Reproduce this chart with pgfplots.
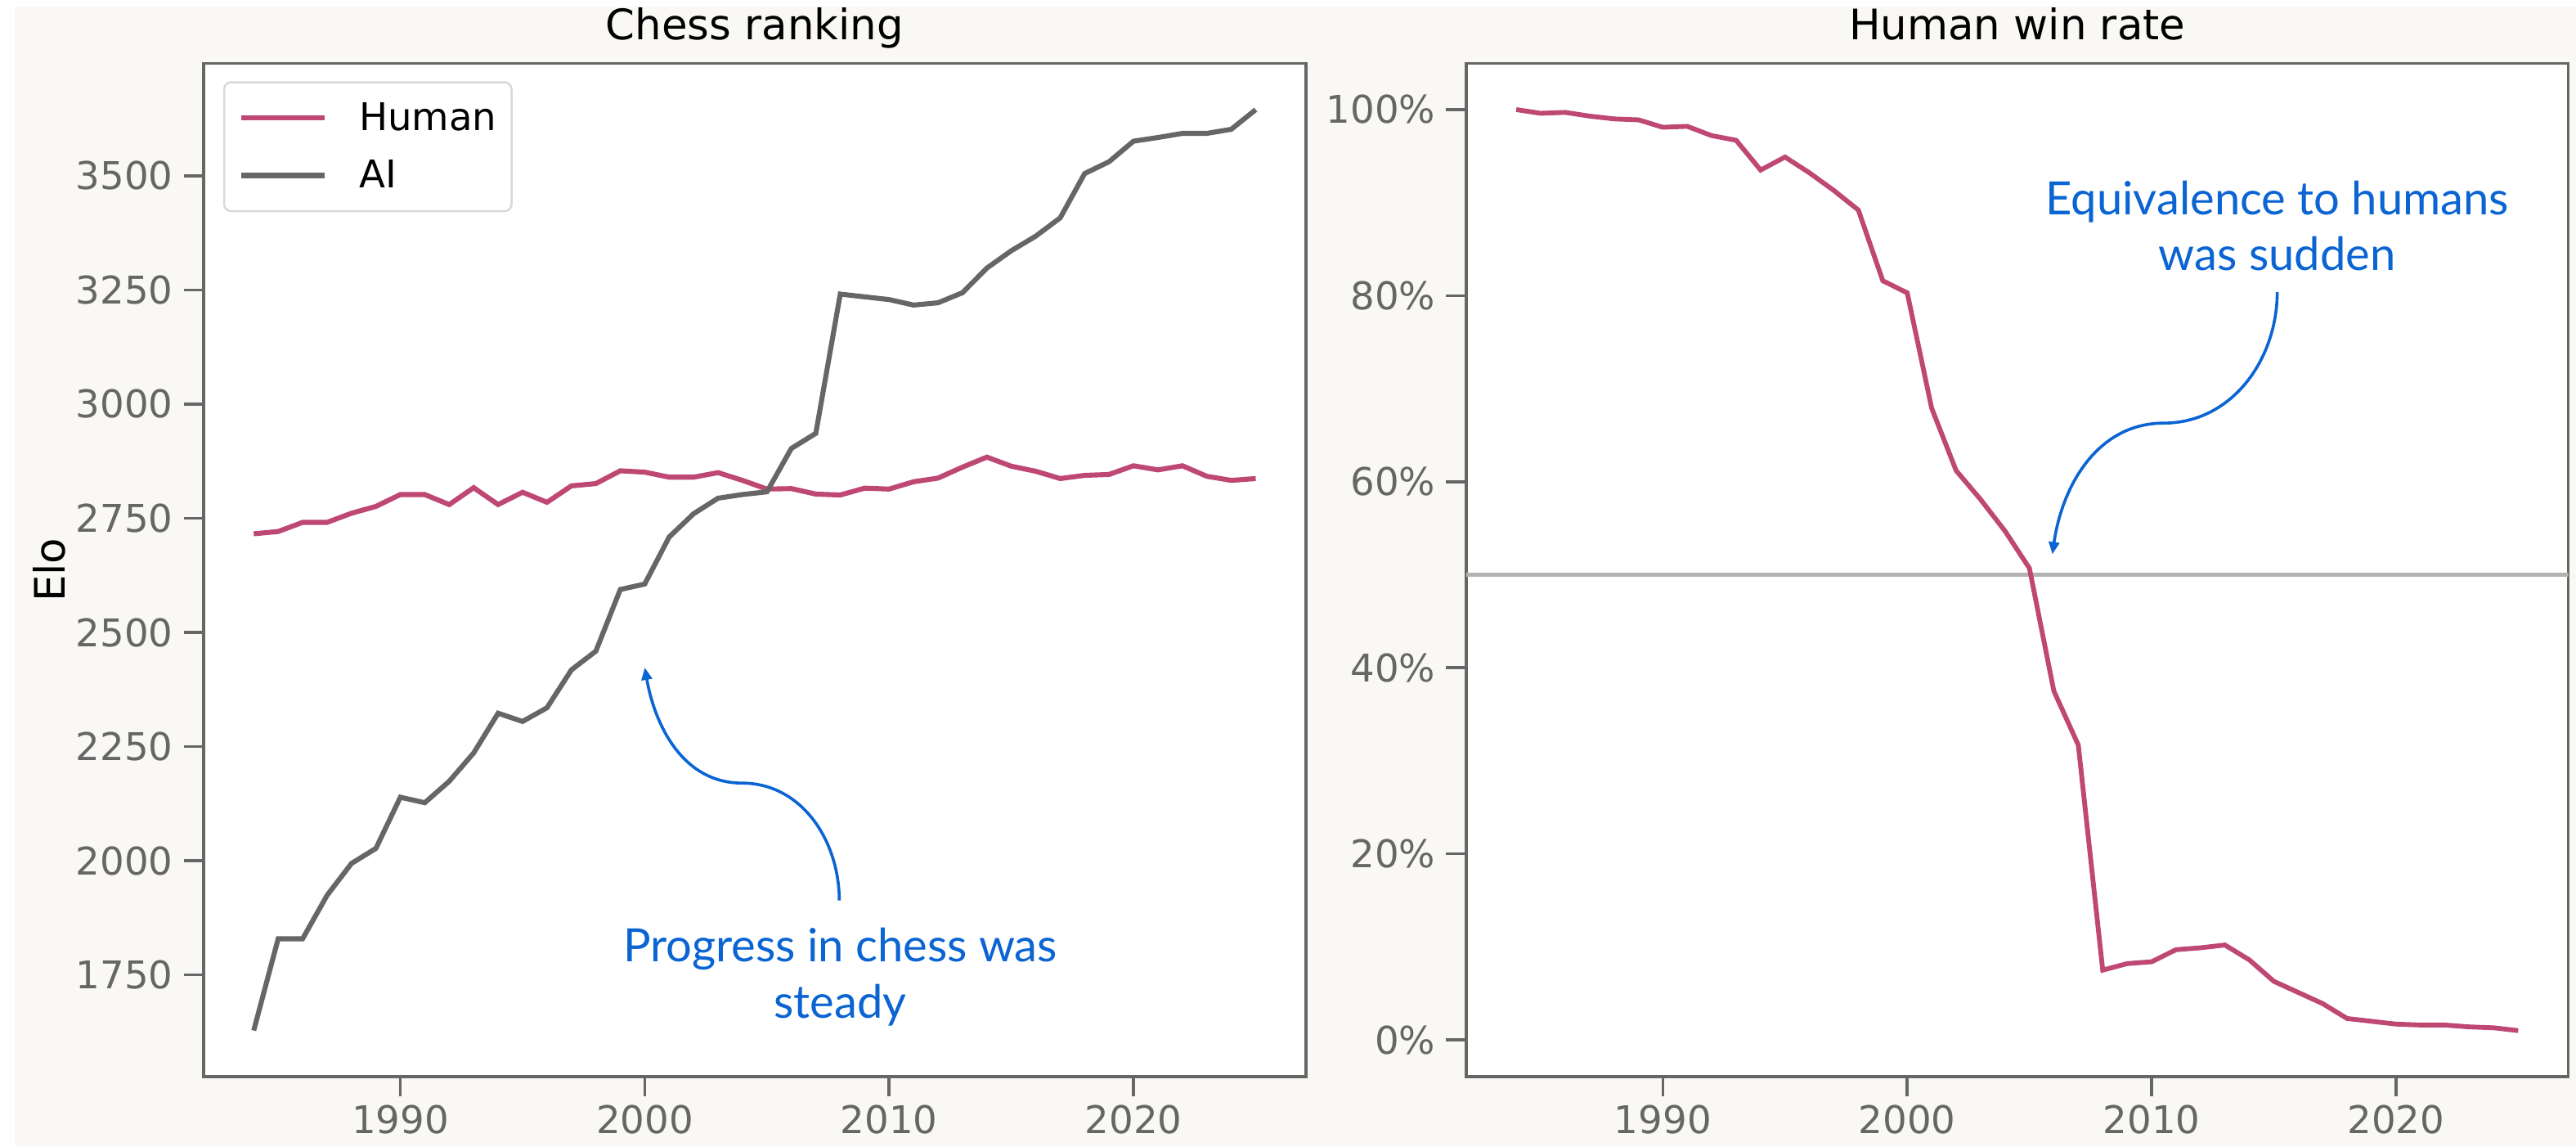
\documentclass[border=0pt]{standalone}
\usepackage{fontspec}
\setmainfont{DejaVu Sans}
\newfontfamily\annotfont{Lato}
\usepackage{pgfplots}
\pgfplotsset{compat=1.18}
\usepackage{pgfplotstable}
\usetikzlibrary{arrows.meta}

\definecolor{humancol}{RGB}{190,72,115}
\definecolor{aicol}{RGB}{102,102,102}
\definecolor{axgray}{RGB}{102,102,102}
\definecolor{bgcol}{RGB}{249,248,245}
\definecolor{annot}{RGB}{10,100,210}
\definecolor{refline}{RGB}{179,179,179}
\definecolor{leggray}{RGB}{217,217,217}

\newcommand\tickfont{\fontsize{16.8pt}{20pt}\selectfont}
\newcommand\titlefont{\fontsize{18.5pt}{22pt}\selectfont}
\newcommand\legfont{\fontsize{16.8pt}{20pt}\selectfont}

\pgfplotstableread{
year human ai win
1984 2716 1628 100.0
1985 2721 1829 99.6
1986 2741 1829 99.7
1987 2741 1924 99.3
1988 2761 1994 99.0
1989 2776 2027 98.9
1990 2802 2139 98.1
1991 2802 2127 98.2
1992 2780 2174 97.2
1993 2817 2236 96.7
1994 2780 2323 93.5
1995 2807 2305 94.9
1996 2785 2335 93.2
1997 2821 2418 91.3
1998 2826 2459 89.2
1999 2854 2594 81.6
2000 2851 2606 80.3
2001 2840 2709 67.9
2002 2840 2760 61.2
2003 2850 2794 58.1
2004 2833 2802 54.7
2005 2814 2808 50.7
2006 2815 2903 37.5
2007 2803 2936 31.7
2008 2801 3241 7.5
2009 2816 3235 8.2
2010 2814 3229 8.4
2011 2830 3217 9.7
2012 2838 3222 9.9
2013 2862 3244 10.2
2014 2884 3298 8.6
2015 2864 3336 6.3
2016 2853 3368 5.1
2017 2837 3408 3.9
2018 2844 3505 2.3
2019 2846 3531 2.0
2020 2865 3576 1.7
2021 2856 3584 1.6
2022 2865 3593 1.6
2023 2842 3593 1.4
2024 2833 3602 1.3
2025 2837 3645 1.0
}\chessdata

\pgfplotsset{
  panel/.style={
    scale only axis, width=485.2pt, height=445.8pt,
    xmin=1981.95, xmax=2027.05,
    axis background/.style={fill=white},
    axis line style={draw=axgray, line width=1.3pt},
    tick style={draw=axgray, line width=1.3pt},
    major tick length=8.8pt,
    tick align=outside,
    xtick pos=bottom, ytick pos=left,
    minor tick num=0,
    xtick={1990,2000,2010,2020},
    xticklabels={1990,2000,2010,2020},
    ticklabel style={font=\tickfont, text=axgray, inner sep=0pt},
    xticklabel style={anchor=north, yshift=-3.4pt},
    yticklabel style={anchor=east, xshift=-4.5pt},
    title style={font=\titlefont, at={(axis description cs:0.5,1)}, anchor=base, yshift=4.6pt, inner sep=0pt},
  },
}

\begin{document}
\begin{tikzpicture}
\fill[white] (0,0) rectangle (1134pt,504.36pt);
\fill[bgcol] (6.48pt,0) rectangle (1134pt,501.5pt);

% Left panel
\begin{axis}[panel,
  at={(89.64pt,30.6pt)}, anchor=south west,
  ymin=1527, ymax=3746,
  ytick={1750,2000,2250,2500,2750,3000,3250,3500},
  yticklabels={1750,2000,2250,2500,2750,3000,3250,3500},
  title={Chess ranking},
  ylabel={Elo},
  every axis y label/.style={at={(axis description cs:-0.1401,0.5)}, rotate=90, anchor=center, font=\titlefont, inner sep=0pt},
  legend style={at={(axis description cs:0,1)}, anchor=north west, xshift=8.6pt, yshift=-7.8pt,
    draw=leggray, line width=0.9pt, rounded corners=3pt, fill=white,
    inner xsep=6.5pt, inner ysep=8.8pt, font=\legfont, row sep=11.6pt, column sep=14pt,
    nodes={inner sep=0pt}, cells={anchor=west}},
  legend image code/.code={\draw[#1, line width=2.2pt] (0pt,0pt) -- (36.7pt,0pt);},
]
\addplot[humancol, line width=2.2pt] table[x=year, y=human] {\chessdata};
\addlegendentry{Human}
\addplot[aicol, line width=2.2pt] table[x=year, y=ai] {\chessdata};
\addlegendentry{AI}
\node[text=annot, align=center, anchor=north, inner sep=0pt, font={\annotfont\fontsize{20.2pt}{24.5pt}\selectfont}] at (axis cs:2008,1853) {Progress in chess was\\steady};
\draw[annot, line width=1.3pt, -{Triangle[length=5.4pt,width=4.6pt]}] (axis cs:2007.96,1913) to[out=90,in=0] (axis cs:2003.98,2170) to[out=180,in=-80] (axis cs:2000,2423);
\end{axis}

% Right panel
\begin{axis}[panel,
  at={(645.4pt,30.6pt)}, anchor=south west,
  ymin=-3.95, ymax=104.95,
  ytick={0,20,40,60,80,100},
  yticklabels={0\%,20\%,40\%,60\%,80\%,100\%},
  title={Human win rate},
]
\addplot[refline, line width=2.1pt] coordinates {(1981.95,50) (2027.05,50)};
\addplot[humancol, line width=2.1pt] table[x=year, y=win] {\chessdata};
\node[text=annot, align=center, anchor=north, inner sep=0pt, font={\annotfont\fontsize{20.2pt}{24.5pt}\selectfont}] at (axis cs:2015.14,92.4) {Equivalence to humans\\was sudden};
\draw[annot, line width=1.3pt, -{Triangle[length=5.4pt,width=4.6pt]}] (axis cs:2015.14,80.4) to[out=-90,in=0] (axis cs:2010.5,66.3) to[out=180,in=82] (axis cs:2005.94,52.2);
\end{axis}

\pgfresetboundingbox
\useasboundingbox (0,0) rectangle (1134pt,504.36pt);
\end{tikzpicture}
\end{document}
